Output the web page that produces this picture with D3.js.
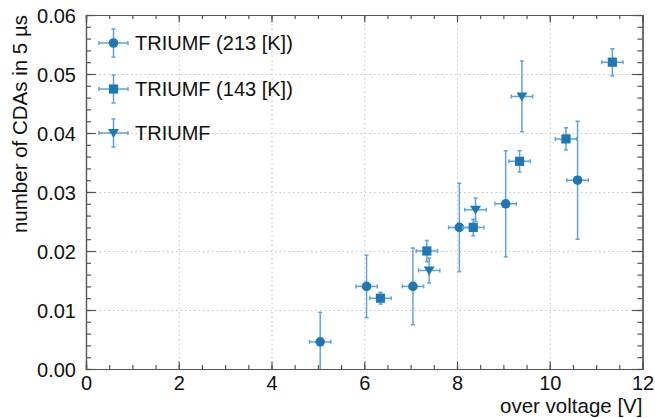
<!DOCTYPE html>
<html>
<head>
<meta charset="utf-8">
<script src="https://cdn.jsdelivr.net/npm/d3@7"></script>
<style>
  html, body { margin: 0; padding: 0; background: #fff; }
  svg text { font-family: "Liberation Sans", Arial, Helvetica, sans-serif; fill: #111; }
  .frame path, .frame line { stroke: #555; stroke-width: 1.2; }
  .grid line { stroke: #c8c8c8; stroke-width: 1; stroke-dasharray: 1.5,3; }
  .grid path { display: none; }
</style>
</head>
<body>
<div id="chart"></div>
<script>
// ── Data ──────────────────────────────────────────────
const seriesNames = ["TRIUMF (213 [K])", "TRIUMF (143 [K])", "TRIUMF"];

const circleX    = [5.05, 6.05, 7.05, 8.05, 9.05, 10.6];
const circleY    = [0.0046, 0.014, 0.014, 0.024, 0.028, 0.032];
const circleYErr = [0.005, 0.0053, 0.0065, 0.0075, 0.009, 0.010];

const squareX    = [6.35, 7.35, 8.35, 9.35, 10.35, 11.35];
const squareY    = [0.012, 0.020, 0.024, 0.0352, 0.039, 0.052];
const squareYErr = [0.001, 0.0018, 0.0014, 0.0018, 0.0019, 0.0023];

const triX    = [7.4, 8.4, 9.4];
const triY    = [0.0167, 0.027, 0.0462];
const triYErr = [0.0021, 0.002, 0.006];

const xErr = 0.23;

const xTicks = [0, 2, 4, 6, 8, 10, 12];
const yTicks = [0, 0.01, 0.02, 0.03, 0.04, 0.05, 0.06];

// ── Layout ────────────────────────────────────────────
const W = 655, H = 418;
const margin = { top: 15, right: 12.5, bottom: 49, left: 86 };
const width  = W - margin.left - margin.right;
const height = H - margin.top - margin.bottom;

const markerCol = "#1f77b4";
const errCol    = "#62a5d5";

const svg = d3.select("#chart").append("svg")
  .attr("width", W).attr("height", H);

const g = svg.append("g")
  .attr("transform", `translate(${margin.left},${margin.top})`);

const x = d3.scaleLinear().domain([0, 12]).range([0, width]);
const y = d3.scaleLinear().domain([0, 0.06]).range([height, 0]);

const xMinor = d3.range(0, 12.01, 0.5);
const yMinor = d3.range(0, 0.0601, 0.002);

// Grid
g.append("g").attr("class", "grid")
  .call(d3.axisBottom(x).tickValues(xTicks.slice(1, -1)).tickSize(height).tickFormat(""));
g.append("g").attr("class", "grid")
  .call(d3.axisLeft(y).tickValues(yTicks.slice(1, -1)).tickSize(-width).tickFormat(""));

// Minor ticks (inside the frame)
g.append("g").attr("class", "frame").attr("transform", `translate(0,${height})`)
  .call(d3.axisBottom(x).tickValues(xMinor).tickSize(-4).tickFormat(""));
g.append("g").attr("class", "frame")
  .call(d3.axisTop(x).tickValues(xMinor).tickSize(-4).tickFormat(""));
g.append("g").attr("class", "frame")
  .call(d3.axisLeft(y).tickValues(yMinor).tickSize(-5).tickFormat(""));
g.append("g").attr("class", "frame").attr("transform", `translate(${width},0)`)
  .call(d3.axisRight(y).tickValues(yMinor).tickSize(-5).tickFormat(""));

// Major ticks + labels
const xAxis = g.append("g").attr("class", "frame").attr("transform", `translate(0,${height})`)
  .call(d3.axisBottom(x).tickValues(xTicks).tickSize(-7.5).tickPadding(0).tickFormat(d3.format("d")));
xAxis.selectAll("text").attr("font-size", 20).attr("y", 3).attr("dy", "0.9em");

g.append("g").attr("class", "frame")
  .call(d3.axisTop(x).tickValues(xTicks).tickSize(-7.5).tickFormat(""));

const yAxis = g.append("g").attr("class", "frame")
  .call(d3.axisLeft(y).tickValues(yTicks).tickSize(-10).tickPadding(0).tickFormat(d3.format(".2f")));
yAxis.selectAll("text").attr("font-size", 20).attr("x", -10).attr("dy", "0.36em");

g.append("g").attr("class", "frame").attr("transform", `translate(${width},0)`)
  .call(d3.axisRight(y).tickValues(yTicks).tickSize(-10.5).tickFormat(""));

g.selectAll(".frame text").attr("fill", "#111").style("font-family", '"Liberation Sans", Arial, sans-serif');

// Axis titles
svg.append("text")
  .attr("x", margin.left + width)
  .attr("y", 413)
  .attr("text-anchor", "end")
  .attr("font-size", 20.5)
  .text("over voltage [V]");

svg.append("text")
  .attr("transform", `translate(27,${margin.top}) rotate(-90)`)
  .attr("text-anchor", "end")
  .attr("font-size", 20.5)
  .text("number of CDAs in 5 µs");

// ── Markers ───────────────────────────────────────────
const plot = g.append("g");
svg.append("clipPath").attr("id", "clip")
  .append("rect").attr("width", width).attr("height", height);
plot.attr("clip-path", "url(#clip)");

function drawMarker(sel, shape, cx, cy) {
  if (shape === "circle") {
    sel.append("circle").attr("cx", cx).attr("cy", cy).attr("r", 4.8).attr("fill", markerCol);
  } else if (shape === "square") {
    sel.append("rect").attr("x", cx - 4.6).attr("y", cy - 4.6)
      .attr("width", 9.2).attr("height", 9.2).attr("fill", markerCol);
  } else {
    sel.append("path")
      .attr("d", `M${cx - 5.5},${cy - 4}L${cx + 5.5},${cy - 4}L${cx},${cy + 4.8}Z`)
      .attr("fill", markerCol);
  }
}

function errBar(sel, x1, y1, x2, y2, capX, capY) {
  sel.append("line").attr("x1", x1).attr("y1", y1).attr("x2", x2).attr("y2", y2)
    .attr("stroke", errCol).attr("stroke-width", 1.5);
  [[x1, y1], [x2, y2]].forEach(([px, py]) => {
    sel.append("line")
      .attr("x1", px - capX).attr("x2", px + capX)
      .attr("y1", py - capY).attr("y2", py + capY)
      .attr("stroke", errCol).attr("stroke-width", 1.5);
  });
}

function drawSeries(xs, ys, yerrs, shape) {
  xs.forEach((xv, i) => {
    const cx = x(xv), cy = y(ys[i]);
    errBar(plot, cx, y(ys[i] + yerrs[i]), cx, y(ys[i] - yerrs[i]), 2, 0);
    errBar(plot, x(xv - xErr), cy, x(xv + xErr), cy, 0, 2);
    drawMarker(plot, shape, cx, cy);
  });
}

drawSeries(circleX, circleY, circleYErr, "circle");
drawSeries(squareX, squareY, squareYErr, "square");
drawSeries(triX, triY, triYErr, "triangle");

// ── Legend ────────────────────────────────────────────
const legend = svg.append("g");
const shapes = ["circle", "square", "triangle"];
const legendY = [43, 89, 133];
seriesNames.forEach((name, i) => {
  const ly = legendY[i], lx = 113.5;
  errBar(legend, lx, ly - 14, lx, ly + 14, 2, 0);
  errBar(legend, lx - 14.5, ly, lx + 14.5, ly, 0, 2);
  drawMarker(legend, shapes[i], lx, ly);
  legend.append("text")
    .attr("x", 135).attr("y", ly).attr("dy", "0.36em")
    .attr("font-size", 20)
    .text(name);
});
</script>
</body>
</html>
